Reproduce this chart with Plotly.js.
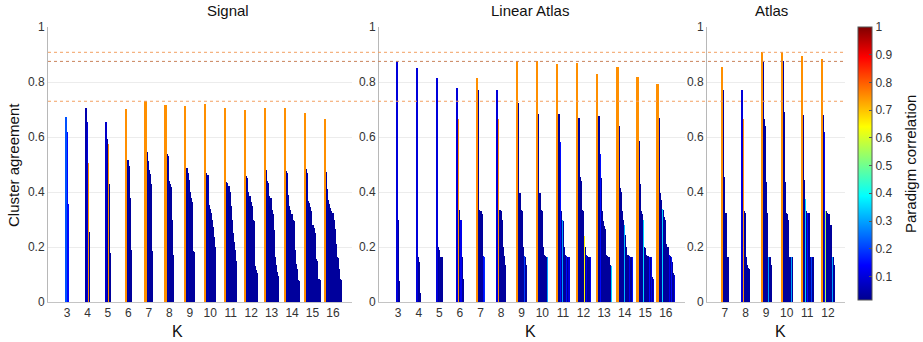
<!DOCTYPE html>
<html>
<head>
<meta charset="utf-8">
<script src="https://cdn.plot.ly/plotly-3.0.1.min.js"></script>
<style>html,body{margin:0;padding:0;background:#fff;}#chart{width:923px;height:342px;}</style>
</head>
<body>
<div id="chart"></div>
<script>
// ---------------- DATA ----------------
const panelTitles = ['Signal', 'Linear Atlas', 'Atlas'];
const xTitle = 'K';
const yTitle = 'Cluster agreement';
const cbTitle = 'Paradigm correlation';
const yTickVals = [0, 0.2, 0.4, 0.6, 0.8, 1];
const yTickText = ['0', '0.2', '0.4', '0.6', '0.8', '1'];
const cbTickVals = [0.1, 0.2, 0.3, 0.4, 0.5, 0.6, 0.7, 0.8, 0.9, 1];
const cbTickText = ['0.1', '0.2', '0.3', '0.4', '0.5', '0.6', '0.7', '0.8', '0.9', '1'];
const refLines = [0.908, 0.875, 0.73];

// Signal
const signalK = [3, 4, 5, 6, 7, 8, 9, 10, 11, 12, 13, 14, 15, 16];
const signalAgree = [
  [0.672, 0.619, 0.356],
  [0.704, 0.656, 0.507, 0.256],
  [0.655, 0.592, 0.575, 0.430, 0.180],
  [0.702, 0.518, 0.515, 0.495, 0.380, 0.188],
  [0.730, 0.545, 0.513, 0.480, 0.465, 0.430, 0.185],
  [0.715, 0.538, 0.530, 0.440, 0.430, 0.420, 0.300, 0.170],
  [0.712, 0.488, 0.470, 0.445, 0.400, 0.380, 0.365, 0.185, 0.183],
  [0.720, 0.468, 0.462, 0.352, 0.340, 0.325, 0.300, 0.272, 0.238, 0.200],
  [0.705, 0.437, 0.432, 0.422, 0.400, 0.350, 0.300, 0.250, 0.220, 0.190, 0.150],
  [0.700, 0.457, 0.450, 0.400, 0.385, 0.365, 0.350, 0.300, 0.295, 0.130, 0.115, 0.105],
  [0.705, 0.480, 0.440, 0.432, 0.385, 0.380, 0.335, 0.320, 0.262, 0.162, 0.135, 0.110, 0.095],
  [0.705, 0.475, 0.470, 0.390, 0.350, 0.335, 0.320, 0.300, 0.295, 0.190, 0.140, 0.120, 0.080, 0.075],
  [0.686, 0.482, 0.470, 0.368, 0.360, 0.345, 0.330, 0.280, 0.270, 0.250, 0.155, 0.150, 0.085, 0.083, 0.080],
  [0.666, 0.474, 0.412, 0.372, 0.356, 0.342, 0.332, 0.322, 0.300, 0.265, 0.210, 0.165, 0.160, 0.120, 0.085, 0.080]
];
const signalCorr = [
  [0.22, 0.15, 0.15],
  [0.05, 0.10, 0.75, 0.04],
  [0.08, 0.03, 0.75, 0.03, 0.03],
  [0.75, 0.03, 0.05, 0.03, 0.03, 0.03],
  [0.75, 0.03, 0.05, 0.03, 0.03, 0.03, 0.03],
  [0.75, 0.03, 0.05, 0.03, 0.03, 0.03, 0.03, 0.03],
  [0.75, 0.03, 0.05, 0.03, 0.03, 0.03, 0.03, 0.03, 0.03],
  [0.75, 0.03, 0.05, 0.03, 0.03, 0.03, 0.03, 0.03, 0.03, 0.03],
  [0.75, 0.03, 0.05, 0.03, 0.03, 0.03, 0.03, 0.03, 0.03, 0.03, 0.03],
  [0.75, 0.03, 0.05, 0.03, 0.03, 0.03, 0.03, 0.03, 0.03, 0.03, 0.03, 0.03],
  [0.75, 0.03, 0.05, 0.03, 0.03, 0.03, 0.03, 0.03, 0.03, 0.03, 0.03, 0.03, 0.03],
  [0.75, 0.03, 0.05, 0.03, 0.03, 0.03, 0.03, 0.03, 0.03, 0.03, 0.03, 0.03, 0.03, 0.03],
  [0.75, 0.03, 0.05, 0.03, 0.03, 0.03, 0.03, 0.03, 0.03, 0.03, 0.03, 0.03, 0.03, 0.03, 0.03],
  [0.75, 0.03, 0.05, 0.03, 0.03, 0.03, 0.03, 0.03, 0.03, 0.03, 0.03, 0.03, 0.03, 0.03, 0.03, 0.03]
];

// Linear Atlas
const linearK = [3, 4, 5, 6, 7, 8, 9, 10, 11, 12, 13, 14, 15, 16];
const linearAgree = [
  [0.878, 0.298, 0.076],
  [0.850, 0.165, 0.145, 0.032],
  [0.815, 0.200, 0.190, 0.165, 0.165],
  [0.780, 0.665, 0.335, 0.298, 0.165, 0.085],
  [0.815, 0.772, 0.335, 0.330, 0.320, 0.168, 0.165],
  [0.772, 0.665, 0.335, 0.330, 0.300, 0.200, 0.168, 0.135],
  [0.875, 0.722, 0.395, 0.335, 0.330, 0.200, 0.168, 0.165, 0.135],
  [0.875, 0.685, 0.395, 0.335, 0.330, 0.200, 0.170, 0.168, 0.165, 0.165],
  [0.865, 0.685, 0.582, 0.330, 0.298, 0.295, 0.200, 0.170, 0.168, 0.165, 0.165],
  [0.870, 0.670, 0.455, 0.440, 0.335, 0.330, 0.240, 0.200, 0.170, 0.168, 0.165, 0.165],
  [0.830, 0.675, 0.540, 0.450, 0.330, 0.295, 0.278, 0.265, 0.170, 0.168, 0.165, 0.135, 0.130],
  [0.855, 0.640, 0.415, 0.400, 0.330, 0.300, 0.280, 0.245, 0.200, 0.170, 0.168, 0.165, 0.165, 0.165],
  [0.820, 0.585, 0.430, 0.330, 0.320, 0.300, 0.200, 0.195, 0.170, 0.168, 0.165, 0.165, 0.165, 0.090, 0.085],
  [0.792, 0.670, 0.395, 0.370, 0.340, 0.335, 0.310, 0.300, 0.210, 0.200, 0.170, 0.168, 0.165, 0.145, 0.105, 0.100]
];
const linearCorr = [
  [0.10, 0.03, 0.03],
  [0.10, 0.03, 0.03, 0.03],
  [0.10, 0.03, 0.05, 0.03, 0.03],
  [0.10, 0.75, 0.03, 0.12, 0.03, 0.03],
  [0.75, 0.03, 0.03, 0.03, 0.03, 0.15, 0.18],
  [0.10, 0.75, 0.03, 0.03, 0.03, 0.03, 0.03, 0.03],
  [0.75, 0.03, 0.03, 0.03, 0.03, 0.03, 0.20, 0.03, 0.03],
  [0.75, 0.03, 0.03, 0.03, 0.03, 0.03, 0.03, 0.03, 0.03, 0.30],
  [0.75, 0.03, 0.15, 0.03, 0.30, 0.03, 0.03, 0.03, 0.15, 0.03, 0.10],
  [0.75, 0.03, 0.03, 0.03, 0.03, 0.03, 0.65, 0.03, 0.12, 0.03, 0.03, 0.12],
  [0.75, 0.03, 0.15, 0.03, 0.03, 0.03, 0.03, 0.03, 0.03, 0.03, 0.03, 0.03, 0.35],
  [0.75, 0.03, 0.03, 0.03, 0.03, 0.03, 0.32, 0.03, 0.03, 0.03, 0.12, 0.03, 0.03, 0.15],
  [0.75, 0.03, 0.03, 0.03, 0.03, 0.35, 0.03, 0.03, 0.03, 0.03, 0.15, 0.03, 0.12, 0.03, 0.10],
  [0.75, 0.03, 0.03, 0.03, 0.35, 0.03, 0.03, 0.03, 0.03, 0.03, 0.12, 0.03, 0.15, 0.03, 0.03, 0.10]
];

// Atlas
const atlasK = [7, 8, 9, 10, 11, 12];
const atlasAgree = [
  [0.855, 0.772, 0.455, 0.325, 0.322, 0.165, 0.165],
  [0.772, 0.665, 0.330, 0.325, 0.165, 0.135, 0.125, 0.120],
  [0.910, 0.872, 0.665, 0.640, 0.435, 0.325, 0.165, 0.163, 0.135],
  [0.910, 0.875, 0.690, 0.435, 0.325, 0.320, 0.300, 0.165, 0.165, 0.163],
  [0.895, 0.680, 0.445, 0.375, 0.330, 0.325, 0.325, 0.165, 0.165, 0.165, 0.163],
  [0.885, 0.680, 0.620, 0.330, 0.330, 0.325, 0.320, 0.280, 0.280, 0.165, 0.165, 0.135]
];
const atlasCorr = [
  [0.75, 0.03, 0.03, 0.03, 0.03, 0.03, 0.03],
  [0.10, 0.75, 0.03, 0.03, 0.03, 0.03, 0.03, 0.03],
  [0.75, 0.03, 0.03, 0.03, 0.03, 0.03, 0.30, 0.03, 0.03],
  [0.75, 0.03, 0.03, 0.03, 0.03, 0.03, 0.03, 0.03, 0.30, 0.03],
  [0.75, 0.03, 0.03, 0.35, 0.03, 0.15, 0.03, 0.03, 0.20, 0.03, 0.03],
  [0.75, 0.03, 0.12, 0.55, 0.03, 0.03, 0.03, 0.03, 0.03, 0.30, 0.03, 0.03]
];

// ---------------- STYLE ----------------
const W = 923, H = 342;
const FONT = 'Liberation Sans, Arial, Helvetica, sans-serif';
const STEP = 0.054, BARW = 0.105;
const jet = [[0, 'rgb(0,0,143)'], [0.127, 'rgb(0,0,255)'], [0.381, 'rgb(0,255,255)'],
             [0.635, 'rgb(255,255,0)'], [0.889, 'rgb(255,0,0)'], [1, 'rgb(128,0,0)']];
const CMIN = 0.015, CMAX = 1;
const px = v => v / W;
const py = v => (H - v) / H;

function buildTrace(ks, agree, corr, xa, ya, showScale) {
  let x = [], y = [], c = [];
  ks.forEach((k, g) => {
    const n = agree[g].length;
    agree[g].forEach((v, i) => {
      x.push(k + (i - (n - 1) / 2) * STEP);
      y.push(v);
      c.push(corr[g][i]);
    });
  });
  // draw shorter (right-hand) bars first so each taller bar stays fully visible
  x = x.reverse(); y = y.reverse(); c = c.reverse();
  const t = {
    type: 'bar', x: x, y: y, width: BARW, xaxis: xa, yaxis: ya,
    marker: { color: c, colorscale: jet, cmin: CMIN, cmax: CMAX, line: { width: 0 }, showscale: showScale },
    hoverinfo: 'x+y'
  };
  if (showScale) {
    t.marker.colorbar = {
      x: px(858), xanchor: 'left', xpad: 0, ypad: 0,
      y: py(27), yanchor: 'top', len: 273, lenmode: 'pixels',
      thickness: 14, thicknessmode: 'pixels',
      tickvals: cbTickVals, ticktext: cbTickText,
      tickfont: { family: FONT, size: 12, color: '#333' },
      ticks: 'inside', ticklen: 3, tickcolor: '#555',
      outlinewidth: 1, outlinecolor: '#555'
    };
  }
  return t;
}

const traces = [
  buildTrace(signalK, signalAgree, signalCorr, 'x', 'y', false),
  buildTrace(linearK, linearAgree, linearCorr, 'x2', 'y2', false),
  buildTrace(atlasK, atlasAgree, atlasCorr, 'x3', 'y3', true)
];

function xAxis(dom, range, ticks, anchor) {
  return {
    domain: [px(dom[0]), px(dom[1])], range: range, anchor: anchor,
    tickmode: 'array', tickvals: ticks, ticktext: ticks.map(String),
    tickfont: { family: FONT, size: 12, color: '#333' },
    showgrid: false, zeroline: false, showline: true, linecolor: '#c4c4c4', linewidth: 1,
    ticks: '', fixedrange: true
  };
}
function yAxis(anchor) {
  return {
    domain: [py(302), py(27)], range: [0, 1], anchor: anchor,
    tickmode: 'array', tickvals: yTickVals, ticktext: yTickText,
    tickfont: { family: FONT, size: 12, color: '#333' },
    showgrid: true, gridcolor: '#ececec', gridwidth: 1,
    zeroline: false, showline: true, linecolor: '#b8b8b8', linewidth: 1,
    ticks: '', fixedrange: true
  };
}

const refColors = ['#f3a062', '#c9825a', '#f3a062'];
const shapes = refLines.map((v, i) => ({
  type: 'line', xref: 'paper', yref: 'y', x0: px(48), x1: px(845), y0: v, y1: v,
  line: { color: refColors[i], width: 1, dash: 'dot' }, layer: 'above'
}));

const ann = (text, x, y, size, angle) => ({
  text: text, x: px(x), y: py(y), xref: 'paper', yref: 'paper',
  xanchor: 'center', yanchor: 'middle', showarrow: false, textangle: angle || 0,
  font: { family: FONT, size: size, color: '#111' }
});

const layout = {
  width: W, height: H, margin: { l: 0, r: 0, t: 0, b: 0 },
  paper_bgcolor: '#fff', plot_bgcolor: '#fff', showlegend: false, bargap: 0,
  xaxis: xAxis([48, 352], [2.07, 16.93], signalK, 'y'),
  xaxis2: xAxis([379, 685], [2.07, 16.93], linearK, 'y2'),
  xaxis3: xAxis([707, 845], [6.13, 12.83], atlasK, 'y3'),
  yaxis: yAxis('x'), yaxis2: yAxis('x2'), yaxis3: yAxis('x3'),
  shapes: shapes,
  annotations: [
    ann(panelTitles[0], 228, 10, 15),
    ann(panelTitles[1], 530, 10, 15),
    ann(panelTitles[2], 771, 10, 15),
    ann(yTitle, 14, 165, 15, -90),
    ann(xTitle, 177, 331, 16),
    ann(xTitle, 530, 331, 16),
    ann(xTitle, 780, 331, 16),
    ann(cbTitle, 910, 164, 15, -90)
  ]
};

Plotly.newPlot('chart', traces, layout, { staticPlot: true, displayModeBar: false });
</script>
</body>
</html>
